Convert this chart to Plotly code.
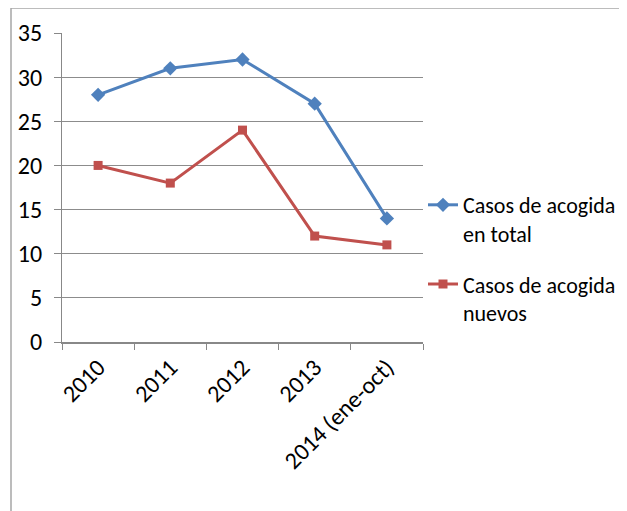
import plotly.graph_objects as go

categories = ["2010", "2011", "2012", "2013", "2014 (ene-oct)"]
total_values = [28, 31, 32, 27, 14]
new_values = [20, 18, 24, 12, 11]
series_names = ["Casos de acogida<br>en total", "Casos de acogida<br>nuevos"]
y_ticks = [0, 5, 10, 15, 20, 25, 30, 35]

FONT = "Carlito, Calibri, 'Liberation Sans Narrow', 'DejaVu Sans Condensed', sans-serif"

# page has an 8px body margin; figure coords = page coords - 8
W, H = 619, 503
L, T, PW, PH = 54, 25, 361, 309

fig = go.Figure()
fig.add_trace(go.Scatter(
    x=categories, y=total_values, name=series_names[0], mode="lines+markers",
    legendgroup="a",
    line=dict(color="#4F81BD", width=3),
    marker=dict(symbol="diamond", size=11, color="#4F81BD"),
))
fig.add_trace(go.Scatter(
    x=categories, y=new_values, name=series_names[1], mode="lines+markers",
    legendgroup="b",
    line=dict(color="#C0504D", width=3),
    marker=dict(symbol="square", size=9, color="#C0504D"),
))

fig.update_layout(
    width=W, height=H,
    margin=dict(l=L, r=W - L - PW, t=T, b=H - T - PH, autoexpand=False),
    paper_bgcolor="white", plot_bgcolor="white",
    font=dict(family=FONT, size=23, color="black"),
    showlegend=True,
    legend=dict(x=(415 - L) / PW, xanchor="left", y=(T + PH - 176) / PH,
                yanchor="top", font=dict(size=22), tracegroupgap=19,
                itemwidth=30, valign="top", bgcolor="rgba(0,0,0,0)"),
    xaxis=dict(
        type="category", range=[-0.5, 4.5], tickangle=-45, automargin=False,
        tickson="boundaries", ticks="outside", ticklen=6, tickcolor="#888888",
        showline=True, linecolor="#888888", linewidth=1.5, showgrid=False,
        tickfont=dict(size=24), fixedrange=True,
    ),
    yaxis=dict(
        range=[0, 35], tickvals=y_ticks, ticks="outside", ticklen=7,
        automargin=False,
        tickcolor="#888888", showline=True, linecolor="#888888", linewidth=1,
        showgrid=True, gridcolor="#8c8c8c", gridwidth=1, zeroline=False,
        tickfont=dict(size=24), ticklabelstandoff=7, fixedrange=True,
    ),
    shapes=[dict(type="rect", xref="paper", yref="paper",
                 x0=(3 - L) / PW, x1=(640 - L) / PW,
                 y0=(T + PH - 530) / PH, y1=(T + PH - 0) / PH,
                 line=dict(color="#a6a6a6", width=1.5), layer="below")],
)

fig.write_html("out.html")
